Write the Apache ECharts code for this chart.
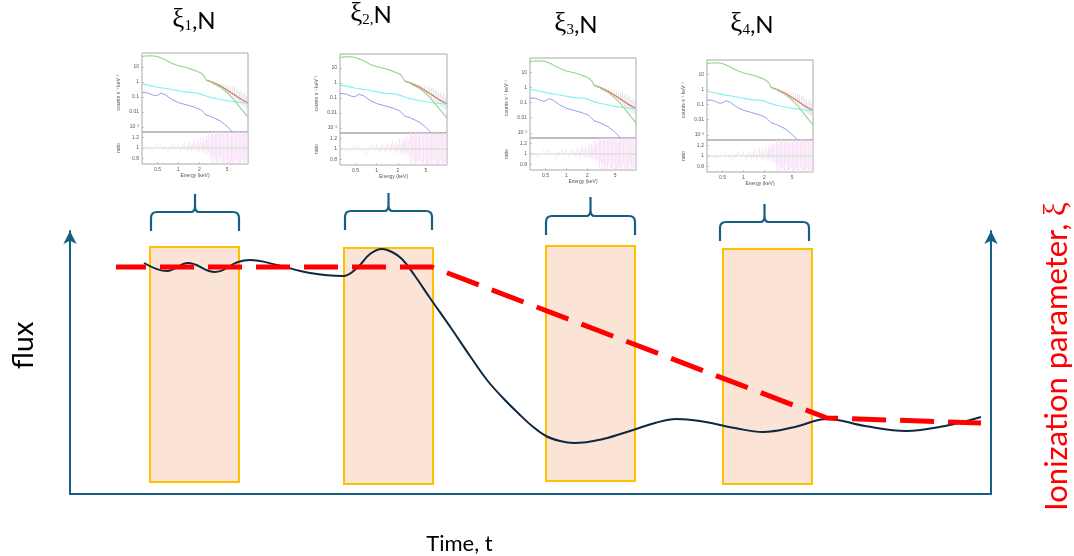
<!DOCTYPE html>
<html><head><meta charset="utf-8">
<style>html,body{margin:0;padding:0;background:#fff}#c{width:1074px;height:556px}</style>
<script src="https://cdn.jsdelivr.net/npm/echarts@6/dist/echarts.min.js"></script>
</head><body><div id="c"></div>
<script>
// ---- main schematic (time, flux) ----
const fluxCurve = [[74,231],[97,223],[118,231],[145,222],[168,232],[180,234],[207,229],[240,221],[273,218],[287,226],[300,240],[312,245],[322,242],[332,235],[345,218],[360,196],[381,166],[400,138],[417,114],[433,96],[448,81],[462,68],[476,58],[490,53],[504,51],[533,55],[563,64],[585,71],[606,75],[630,73],[665,66],[693,62],[725,67],[757,75],[795,68],[836,63],[875,68],[911,77]];
const ionization = [[46,227],[362,227],[757,76],[911,71]];
// box: tStart, tEnd, fluxTop, fluxBottom
const boxes = [[80,169,247,12],[274,363,246,10],[476,565,248,13],[653,742,245,10]];
// brace: tStart, tEnd, tip, shoulder, foot
const braces = [[81,169,300,282,263],[275,362,301,283,264],[476,565,297,278,259],[650,739,290,272,253]];
// ---- spectral panels ----
const greenModel = [[0.3,50],[0.35,55],[0.42,56],[0.5,50],[0.6,36],[0.7,25],[0.8,18],[1,12],[1.25,9.5],[1.5,7.5],[1.8,5.5],[2.1,4],[2.3,2.8],[2.5,1.35],[3,0.95],[4,0.45],[5,0.2],[6,0.08],[7,0.035],[8,0.016],[10,0.0045]];
const redModel = [[2.5,1.35],[3,1.02],[4,0.56],[5,0.29],[6,0.17],[7,0.105],[8,0.07],[9,0.052],[10,0.04]];
const cyanModel = [[0.3,0.75],[0.4,0.57],[0.5,0.45],[0.7,0.35],[1,0.26],[1.3,0.21],[1.8,0.19],[2.1,0.155],[2.5,0.115],[3,0.09],[4,0.068],[5,0.056],[7,0.045],[10,0.038]];
const blueModel = [[0.3,0.2],[0.36,0.19],[0.42,0.14],[0.47,0.12],[0.52,0.14],[0.56,0.18],[0.65,0.14],[0.8,0.07],[1,0.042],[1.3,0.03],[1.7,0.021],[2.1,0.014],[2.3,0.0095],[2.5,0.0062],[3,0.0048],[4,0.0025],[5,0.0011],[6,0.00046]];
// energy, low, high
const countsNoise = [[3.2,0.55,1.1],[3.6,0.5,0.9],[4,0.4,0.85],[4.4,0.3,0.75],[4.8,0.2,0.7],[5.2,0.15,0.6],[5.6,0.12,0.55],[6,0.09,0.45],[6.4,0.07,0.5],[6.8,0.05,0.3],[7.2,0.05,0.35],[7.6,0.04,0.22],[8,0.03,0.25],[8.5,0.025,0.16],[9,0.02,0.2],[9.5,0.018,0.12],[10,0.015,0.1]];
const ratioBars = [[0.32,1,1.04],[0.34,0.98,1.02],[0.38,0.95,1],[0.42,0.94,0.98],[0.47,1.03,1.07],[0.52,1.04,1.07],[0.56,1.02,1.06],[0.62,0.97,1.02],[0.7,0.9,0.96],[0.75,0.95,1.02],[0.8,1,1.06],[0.86,1.02,1.08],[0.92,0.98,1.04],[1,1.02,1.1],[1.08,0.93,1.01],[1.15,0.98,1.06],[1.22,1.02,1.1],[1.3,0.94,1.04],[1.38,0.96,1.08],[1.45,1,1.12],[1.55,0.92,1.06],[1.62,0.97,1.1],[1.7,1,1.16],[1.8,0.93,1.08],[1.9,0.95,1.14],[2,0.92,1.08],[2.1,1,1.2],[2.2,0.9,1.1],[2.3,0.94,1.2],[2.4,0.9,1.12],[2.5,0.98,1.24],[2.6,0.88,1.16],[2.7,0.92,1.26],[2.85,0.85,1.2],[3,0.72,1.3],[3.1,0.85,1.3],[3.25,0.72,1.24],[3.4,0.8,1.3],[3.55,0.7,1.3],[3.7,0.76,1.3],[3.9,0.7,1.26],[4.05,0.82,1.3],[4.25,0.7,1.3],[4.45,0.74,1.3],[4.65,0.7,1.24],[4.85,0.78,1.3],[5.1,0.7,1.3],[5.3,0.72,1.3],[5.55,0.7,1.22],[5.8,0.76,1.3],[6.05,0.7,1.3],[6.3,0.7,1.26],[6.6,0.8,1.3],[6.9,0.7,1.3],[7.2,0.72,1.3],[7.5,0.7,1.3],[7.9,0.7,1.28],[8.2,0.78,1.3],[8.6,0.7,1.3],[9,0.7,1.3],[9.4,0.74,1.3],[9.8,0.7,1.3]];
const unityLine = [[0.3,1],[10,1]];
const energyTicks = [0.5,1,2,5];
const countTicks = [0.001,0.01,0.1,1,10];
const ratioTicks = [0.8,1,1.2];
// left, right, top, divider, bottom (page pixels of each small panel)
const panelFrames = [[142,248,53,132,164],[340,447,54,133,165],[530,636,58,138,170],[707,813,60,140,172]];
const titles = [{t:'{x|ξ}{s|1}{n|,N}',x:194,y:20},{t:'{x|ξ}{s|2,}{n|N}',x:371,y:14},{t:'{x|ξ}{s|3}{n|,N}',x:576,y:24},{t:'{x|ξ}{s|4}{n|,N}',x:752,y:24}];

const TEAL='#156082', NAVY='#0e2841', W=1074, H=556, FONT='Lato';
const grids=[{left:70,right:W-991,top:231,bottom:H-494,outerBoundsMode:'none'}];
const xAxes=[{type:'value',min:0,max:921,gridIndex:0,
  axisLine:{show:true,lineStyle:{color:TEAL,width:2}},axisTick:{show:false},axisLabel:{show:false},splitLine:{show:false},
  name:'Time, t',nameLocation:'middle',nameGap:39,nameTextStyle:{color:'#000',fontSize:22,fontFamily:FONT,padding:[0,142,0,0]}}];
const arrowLine={show:true,symbol:['none','arrow'],symbolSize:[10,13],lineStyle:{color:TEAL,width:2}};
const yAxes=[
 {type:'value',min:0,max:263,gridIndex:0,position:'left',axisLine:arrowLine,axisTick:{show:false},axisLabel:{show:false},splitLine:{show:false},
  name:'flux',nameLocation:'middle',nameGap:32,nameRotate:90,nameTextStyle:{color:'#000',fontSize:29,fontFamily:FONT,padding:[0,0,0,34]}},
 {type:'value',min:0,max:263,gridIndex:0,position:'right',axisLine:arrowLine,axisTick:{show:false},axisLabel:{show:false},splitLine:{show:false},
  name:'{a|Ionization parameter, }{b|ξ}',nameLocation:'middle',nameGap:50,nameRotate:90,
  nameTextStyle:{padding:[0,0,0,12],rich:{a:{color:'#ff0000',fontSize:31,fontFamily:FONT},b:{color:'#ff0000',fontSize:31,fontFamily:'Liberation Serif'}}}}
];
const series=[
 {type:'custom',xAxisIndex:0,yAxisIndex:0,z:1,clip:false,data:boxes,encode:{x:[0,1],y:[2,3]},silent:true,
  renderItem(p,api){const a=api.coord([api.value(0),api.value(2)]),b=api.coord([api.value(1),api.value(3)]);
   return {type:'rect',shape:{x:a[0],y:a[1],width:b[0]-a[0],height:b[1]-a[1]},style:{fill:'#fbe3d6',stroke:'#ffc000',lineWidth:2}};}},
 {type:'custom',xAxisIndex:0,yAxisIndex:0,z:2,clip:false,data:braces,encode:{x:[0,1],y:[2,3,4]},silent:true,
  renderItem(p,api){const l=api.coord([api.value(0),api.value(4)]),r=api.coord([api.value(1),api.value(4)]),
    s=api.coord([api.value(0),api.value(3)])[1],t=api.coord([api.value(0),api.value(2)])[1],m=(l[0]+r[0])/2,c=6;
   const d=`M${l[0]} ${l[1]}L${l[0]} ${s+c}Q${l[0]} ${s} ${l[0]+c} ${s}L${m-4} ${s}Q${m} ${s} ${m} ${s-6}L${m} ${t}L${m} ${s-6}Q${m} ${s} ${m+4} ${s}L${r[0]-c} ${s}Q${r[0]} ${s} ${r[0]} ${s+c}L${r[0]} ${r[1]}`;
   return {type:'path',shape:{pathData:d,x:l[0],y:t,width:r[0]-l[0],height:l[1]-t,layout:'none'},style:{fill:null,stroke:TEAL,lineWidth:2.2}};}},
 {type:'line',xAxisIndex:0,yAxisIndex:0,z:3,data:fluxCurve,smooth:0.4,showSymbol:false,silent:true,lineStyle:{color:NAVY,width:2}},
 {type:'line',xAxisIndex:0,yAxisIndex:1,z:4,data:ionization,showSymbol:false,silent:true,lineStyle:{color:'#ff0000',width:5,type:[34,14],dashOffset:4}}
];
const tickFont={fontSize:5,color:'#555',fontFamily:'Liberation Sans'};
const nameFont={fontSize:5,color:'#555',fontFamily:'Liberation Sans'};
function errorBars(data,xi,yi,color){return {type:'custom',xAxisIndex:xi,yAxisIndex:yi,z:5,clip:true,data,encode:{x:0,y:[1,2]},silent:true,
  renderItem(p,api){const a=api.coord([api.value(0),api.value(1)]),b=api.coord([api.value(0),api.value(2)]);
   return {type:'line',shape:{x1:a[0],y1:a[1],x2:b[0],y2:b[1]},style:{stroke:color,lineWidth:0.8}};}};}
function lineOf(data,xi,yi,color,w,z){return {type:'line',xAxisIndex:xi,yAxisIndex:yi,z:z||6,data,showSymbol:false,silent:true,clip:true,lineStyle:{color,width:w||1}};}
panelFrames.forEach(([l,r,t,d,b])=>{
  const gi=grids.length;
  const border={show:true,borderColor:'#a8a8a8',borderWidth:1,backgroundColor:'transparent',outerBoundsMode:'none'};
  grids.push({left:l,width:r-l,top:t,height:d-t,...border},{left:l,width:r-l,top:d,height:b-d,...border});
  const xi=xAxes.length,yi=yAxes.length;
  const tick={show:true,inside:true,length:2,lineStyle:{color:'#999',width:0.5}};
  xAxes.push({type:'log',logBase:10,min:0.3,max:10,gridIndex:gi,axisLine:{show:false},axisTick:{show:false},axisLabel:{show:false},splitLine:{show:false}},
   {type:'log',logBase:10,min:0.3,max:10,gridIndex:gi+1,axisLine:{show:false},splitLine:{show:false},
    axisTick:{...tick,customValues:energyTicks},axisLabel:{...tickFont,margin:3,customValues:energyTicks,formatter:v=>String(v)},
    name:'Energy (keV)',nameLocation:'middle',nameGap:9,nameTextStyle:nameFont});
  yAxes.push({type:'log',logBase:10,min:0.00046,max:86,gridIndex:gi,axisLine:{show:false},splitLine:{show:false},
    axisTick:{...tick,customValues:countTicks},axisLabel:{...tickFont,margin:3,customValues:countTicks,formatter:v=>v<0.005?'10⁻³':String(v)},
    name:'counts s⁻¹ keV⁻¹',nameLocation:'middle',nameGap:21,nameRotate:90,nameTextStyle:nameFont},
   {type:'value',min:0.7,max:1.3,interval:0.1,gridIndex:gi+1,axisLine:{show:false},splitLine:{show:false},
    axisTick:{...tick,customValues:ratioTicks},axisLabel:{...tickFont,margin:3,customValues:ratioTicks,formatter:v=>String(+v.toFixed(1))},
    name:'ratio',nameLocation:'middle',nameGap:21,nameRotate:90,nameTextStyle:nameFont});
  series.push(
    errorBars(countsNoise,xi,yi,'#dcdcdc'),
    lineOf(redModel,xi,yi,'#e86a6a',1.2),
    lineOf(greenModel,xi,yi,'#8fd889',1.1,7),
    lineOf(cyanModel,xi,yi,'#7ff0f0',1.1),
    lineOf(blueModel,xi,yi,'#9a9af0',1),
    errorBars(ratioBars,xi+1,yi+1,'#f8d8f5'),
    lineOf(unityLine,xi+1,yi+1,'#b5e8b0',0.9,7));
});
const graphic=titles.map(o=>({type:'text',x:o.x,y:o.y,silent:true,style:{text:o.t,align:'center',verticalAlign:'middle',
  rich:{x:{fontFamily:'Liberation Serif',fontSize:27,fill:'#000',verticalAlign:'bottom'},
        s:{fontFamily:'Liberation Serif',fontSize:15,fill:'#000',verticalAlign:'bottom',padding:[10,0,0,0]},
        n:{fontFamily:FONT,fontSize:24,fill:'#000',verticalAlign:'bottom'}}}}));
const chart=echarts.init(document.getElementById('c'),null,{renderer:'canvas'});
chart.setOption({animation:false,backgroundColor:'#fff',tooltip:{show:false},grid:grids,xAxis:xAxes,yAxis:yAxes,series,graphic});
</script></body></html>
